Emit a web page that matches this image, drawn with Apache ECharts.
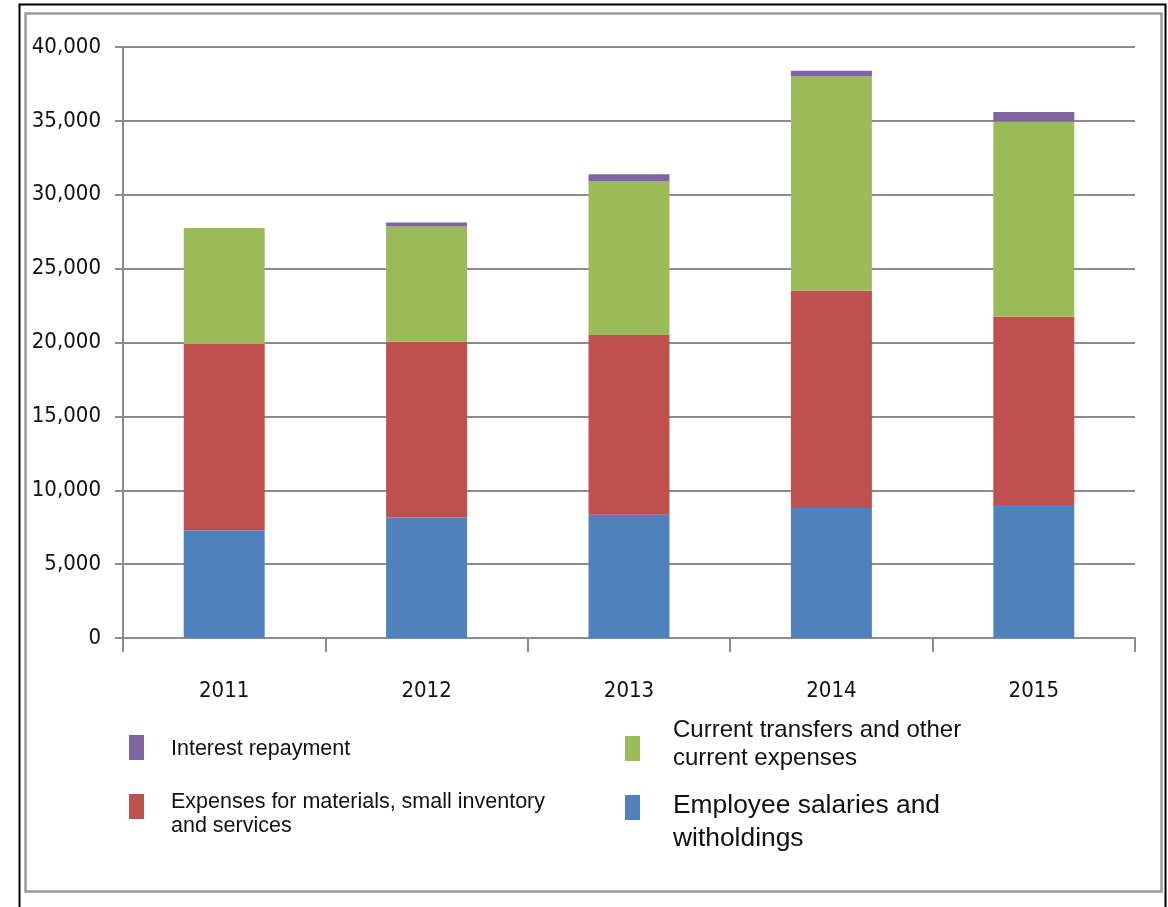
<!DOCTYPE html>
<html>
<head>
<meta charset="utf-8">
<script src="https://cdn.jsdelivr.net/npm/echarts@6/dist/echarts.min.js"></script>
<style>html,body{margin:0;padding:0;background:#fff}#c{width:1168px;height:907px}</style>
</head>
<body>
<div id="c"></div>
<script>
const categories = ['2011', '2012', '2013', '2014', '2015'];
const employeeSalaries = [7300, 8150, 8350, 8800, 9000];
const materialsExpenses = [12600, 11900, 12150, 14700, 12750];
const currentTransfers = [7850, 7800, 10400, 14500, 13200];
const interestRepayment = [0, 270, 490, 400, 650];
const yTicks = [0, 5000, 10000, 15000, 20000, 25000, 30000, 35000, 40000];

const names = {
  blue: 'Employee salaries and\nwitholdings',
  red: 'Expenses for materials, small inventory\nand services',
  green: 'Current transfers and other\ncurrent expenses',
  purple: 'Interest repayment'
};
const colors = { blue: '#4F81BD', red: '#C0504D', green: '#9BBB59', purple: '#8064A2' };

const chart = echarts.init(document.getElementById('c'));
const gridColor = '#8c8c8c';
const axisFont = { fontFamily: 'DejaVu Sans Condensed', fontSize: 22, color: '#111' };

// marker-only legend entry
function legendIcon(name, left, top) {
  return {
    data: [name], left: left, top: top, padding: 0,
    icon: 'rect', itemWidth: 15, itemHeight: 25, selectedMode: false,
    formatter: () => '',
    textStyle: { fontSize: 8, lineHeight: 8 }
  };
}
// text-only legend entry
function legendText(name, left, top, fs, lh) {
  return {
    data: [name], left: left, top: top, padding: 0,
    icon: 'rect', itemWidth: 0, itemHeight: 0, selectedMode: false,
    textStyle: { fontFamily: 'Liberation Sans', fontSize: fs, lineHeight: lh, color: '#111' }
  };
}

chart.setOption({
  animation: false,
  backgroundColor: '#fff',
  grid: { left: 123, right: 33, top: 47, bottom: 269, containLabel: false },
  xAxis: {
    type: 'category', data: categories,
    axisLine: { lineStyle: { color: gridColor, width: 2 } },
    axisTick: { show: true, length: 14, lineStyle: { color: gridColor, width: 2 } },
    axisLabel: Object.assign({ margin: 42 }, axisFont),
    splitLine: { show: false }
  },
  yAxis: {
    type: 'value', min: 0, max: 40000, interval: 5000,
    axisLine: { show: true, lineStyle: { color: gridColor, width: 2 } },
    axisTick: { show: true, length: 8, lineStyle: { color: gridColor, width: 2 } },
    axisLabel: Object.assign({ margin: 22, formatter: v => yTicks.includes(v) ? v.toLocaleString('en-US') : '' }, axisFont),
    splitLine: { show: true, lineStyle: { color: gridColor, width: 2 } }
  },
  legend: [
    legendIcon(names.purple, 129, 735),
    legendIcon(names.red, 129, 794),
    legendIcon(names.green, 625, 736),
    legendIcon(names.blue, 625, 795),
    legendText(names.purple, 166, 737.5, 21.5, 24),
    legendText(names.red, 166, 790.75, 21.5, 23.5),
    legendText(names.green, 668, 716, 24, 28.3),
    legendText(names.blue, 668, 788.5, 26.4, 33.5)
  ],
  graphic: [
    { type: 'rect', z: -10, silent: true, shape: { x: 19.5, y: 4.5, width: 1146, height: 950 }, style: { fill: 'none', stroke: '#000', lineWidth: 2 } },
    { type: 'rect', z: -10, silent: true, shape: { x: 25.5, y: 13.5, width: 1136, height: 878 }, style: { fill: 'none', stroke: '#9a9a9a', lineWidth: 2.5 } }
  ],
  series: [
    { name: names.blue, type: 'bar', stack: 'total', data: employeeSalaries, barWidth: '40%', itemStyle: { color: colors.blue } },
    { name: names.red, type: 'bar', stack: 'total', data: materialsExpenses, barWidth: '40%', itemStyle: { color: colors.red } },
    { name: names.green, type: 'bar', stack: 'total', data: currentTransfers, barWidth: '40%', itemStyle: { color: colors.green } },
    { name: names.purple, type: 'bar', stack: 'total', data: interestRepayment, barWidth: '40%', itemStyle: { color: colors.purple } }
  ]
});
</script>
</body>
</html>
